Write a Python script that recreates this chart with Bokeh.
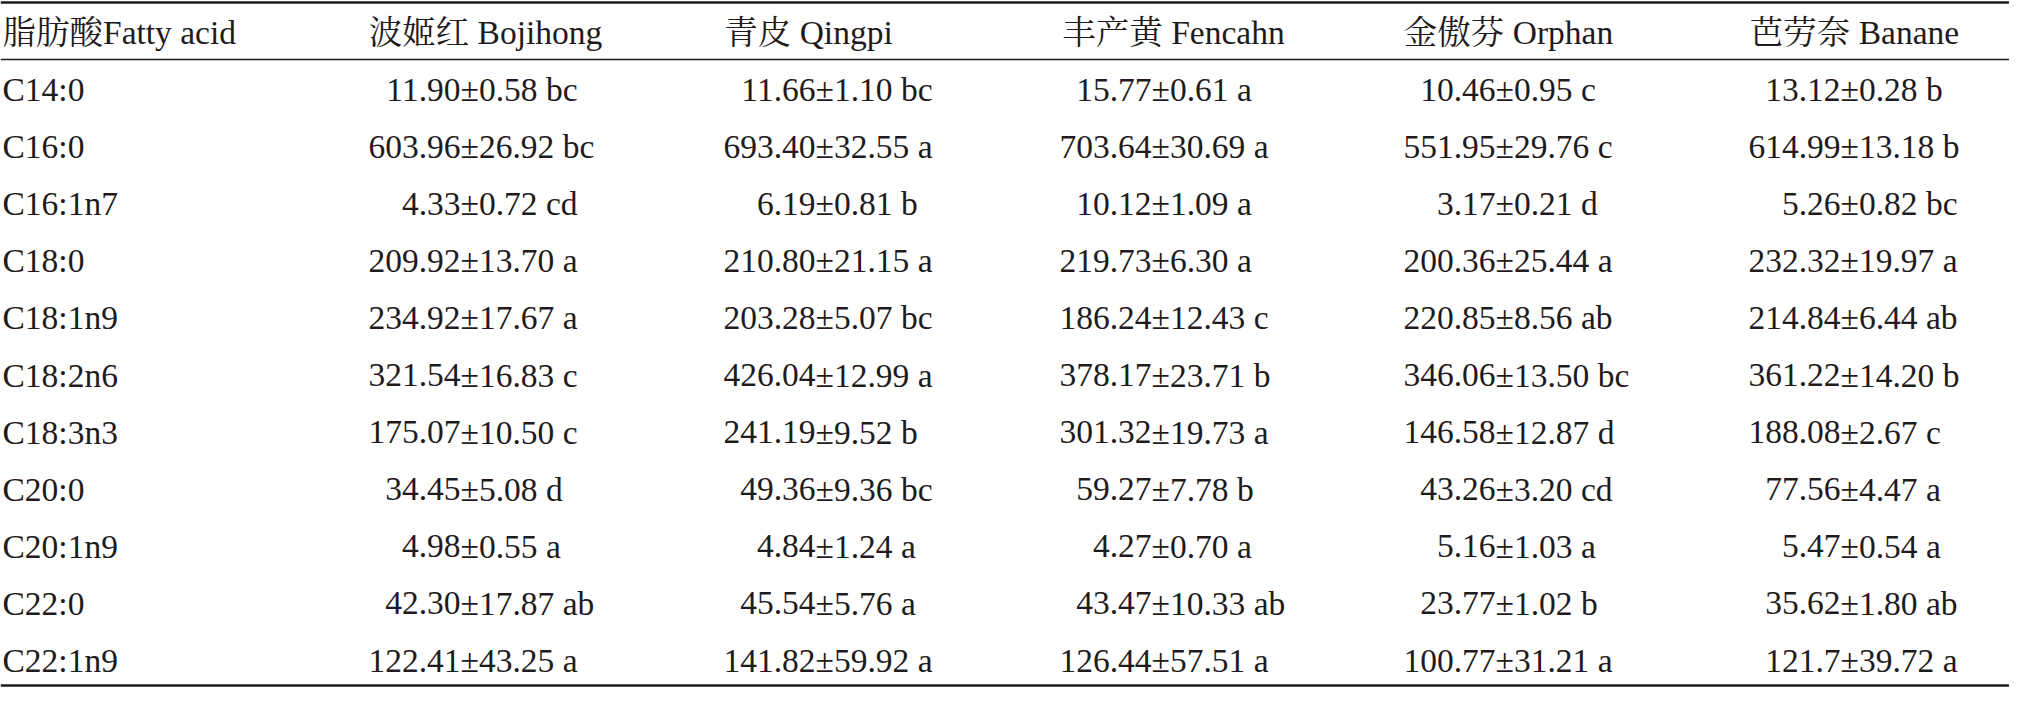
from bokeh.plotting import figure
from bokeh.models import Range1d, ColumnDataSource
from bokeh.core.properties import value
from bokeh.embed import file_html
from bokeh.resources import INLINE

# ---------------- data ----------------
header_first = "脂肪酸Fatty acid"
varieties = ["波姬红 Bojihong", "青皮 Qingpi", "丰产黄 Fencahn", "金傲芬 Orphan", "芭劳奈 Banane"]
acids = ["C14:0", "C16:0", "C16:1n7", "C18:0", "C18:1n9", "C18:2n6",
         "C18:3n3", "C20:0", "C20:1n9", "C22:0", "C22:1n9"]

bojihong_mean = ["11.90", "603.96", "4.33", "209.92", "234.92", "321.54", "175.07", "34.45", "4.98", "42.30", "122.41"]
bojihong_sd = ["0.58", "26.92", "0.72", "13.70", "17.67", "16.83", "10.50", "5.08", "0.55", "17.87", "43.25"]
bojihong_sig = ["bc", "bc", "cd", "a", "a", "c", "c", "d", "a", "ab", "a"]

qingpi_mean = ["11.66", "693.40", "6.19", "210.80", "203.28", "426.04", "241.19", "49.36", "4.84", "45.54", "141.82"]
qingpi_sd = ["1.10", "32.55", "0.81", "21.15", "5.07", "12.99", "9.52", "9.36", "1.24", "5.76", "59.92"]
qingpi_sig = ["bc", "a", "b", "a", "bc", "a", "b", "bc", "a", "a", "a"]

fencahn_mean = ["15.77", "703.64", "10.12", "219.73", "186.24", "378.17", "301.32", "59.27", "4.27", "43.47", "126.44"]
fencahn_sd = ["0.61", "30.69", "1.09", "6.30", "12.43", "23.71", "19.73", "7.78", "0.70", "10.33", "57.51"]
fencahn_sig = ["a", "a", "a", "a", "c", "b", "a", "b", "a", "ab", "a"]

orphan_mean = ["10.46", "551.95", "3.17", "200.36", "220.85", "346.06", "146.58", "43.26", "5.16", "23.77", "100.77"]
orphan_sd = ["0.95", "29.76", "0.21", "25.44", "8.56", "13.50", "12.87", "3.20", "1.03", "1.02", "31.21"]
orphan_sig = ["c", "c", "d", "a", "ab", "bc", "d", "cd", "a", "b", "a"]

banane_mean = ["13.12", "614.99", "5.26", "232.32", "214.84", "361.22", "188.08", "77.56", "5.47", "35.62", "121.7"]
banane_sd = ["0.28", "13.18", "0.82", "19.97", "6.44", "14.20", "2.67", "4.47", "0.54", "1.80", "39.72"]
banane_sig = ["b", "b", "bc", "a", "ab", "b", "c", "a", "a", "ab", "a"]

means = [bojihong_mean, qingpi_mean, fencahn_mean, orphan_mean, banane_mean]
sds = [bojihong_sd, qingpi_sd, fencahn_sd, orphan_sd, banane_sd]
sigs = [bojihong_sig, qingpi_sig, fencahn_sig, orphan_sig, banane_sig]

# ---------------- layout (page pixel coordinates) ----------------
W, H = 2009, 687
FONT = value("'Liberation Serif', 'Noto Serif CJK SC', 'Noto Sans CJK SC', serif")
SIZE = "33.5px"
INK = "#1f1b1c"

col_pm_left = [468, 823, 1159, 1503, 1848]      # left edge of the ± sign in each column
col_head_center = [493, 816, 1181, 1516, 1862]
first_x = 10
head_y = 40
row_y0, row_dy = 97, 57.1

p = figure(width=W, height=H, output_backend="svg", toolbar_location=None,
           x_range=Range1d(8, 8 + W), y_range=Range1d(8 + H, 8),
           min_border=0, outline_line_color=None)
p.axis.visible = False
p.grid.visible = False
p.background_fill_color = "white"
p.border_fill_color = "white"

# rules
p.segment(x0=[8, 8, 8], y0=[10, 67, 693], x1=[2021, 2021, 2021], y1=[10, 67, 693],
          line_color=INK, line_width=[2.6, 1.4, 2.6])

common = dict(text_font=FONT, text_font_size=SIZE, text_color=INK, text_baseline="middle")

# header
p.text(x=[first_x], y=[head_y], text=[header_first], text_align="left", **common)
p.text(x=col_head_center, y=[head_y] * len(varieties), text=varieties, text_align="center", **common)

# first column
ys = [row_y0 + i * row_dy for i in range(len(acids))]
p.text(x=[first_x] * len(acids), y=ys, text=acids, text_align="left", **common)

# value cells: mean right of ±, then ±sd letters
for j in range(len(varieties)):
    left = ColumnDataSource(dict(x=[col_pm_left[j]] * len(acids), y=ys, t=means[j]))
    right = ColumnDataSource(dict(x=[col_pm_left[j]] * len(acids), y=ys,
                                  t=["±" + s + " " + g for s, g in zip(sds[j], sigs[j])]))
    p.text(x="x", y="y", text="t", source=left, text_align="right", **common)
    p.text(x="x", y="y", text="t", source=right, text_align="left", **common)

open("out.html", "w").write(file_html(p, INLINE))
